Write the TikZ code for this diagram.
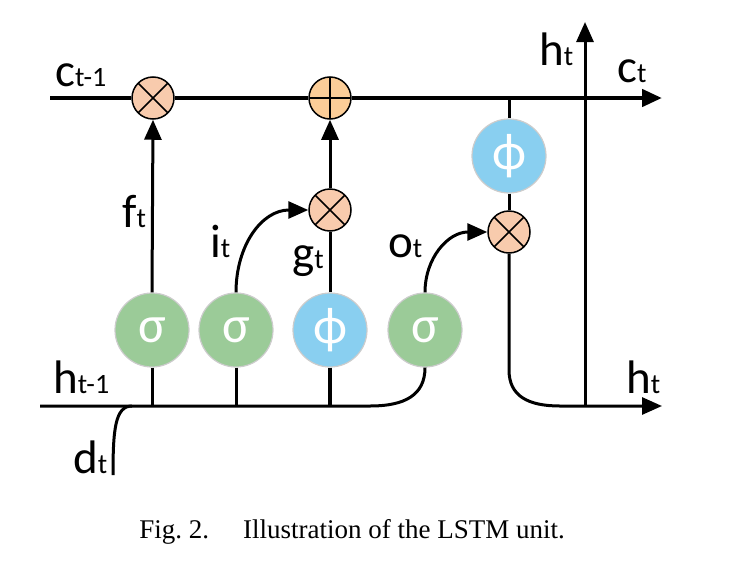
\documentclass[tikz,border=0pt]{standalone}
\usepackage{fontspec}
\setmainfont{Carlito}
\newfontfamily\capfont{Liberation Serif}
\usetikzlibrary{arrows.meta}
\definecolor{sigcol}{RGB}{155,203,152}
\definecolor{phicol}{RGB}{137,207,240}
\definecolor{mulcol}{RGB}{248,203,173}
\definecolor{addcol}{RGB}{251,205,152}
\newcommand{\lbl}[2]{{\fontsize{47}{47}\selectfont #1}{\fontsize{28}{28}\selectfont #2}}

\begin{document}
\begin{tikzpicture}[x=1pt,y=-1pt,>={Triangle[length=20pt,width=17pt]},
  gate/.style={circle, draw=gray!40, line width=1.2pt, minimum size=74pt, inner sep=0pt, text=white, font=\fontsize{52}{52}\selectfont},
  sig/.style={gate, fill=sigcol},
  phi/.style={gate, fill=phicol},
  op/.style={circle, draw, line width=1.5pt, minimum size=42pt, inner sep=0pt},
  mul/.style={op, fill=mulcol, path picture={\draw[line width=1.5pt] (path picture bounding box.north west) -- (path picture bounding box.south east) (path picture bounding box.south west) -- (path picture bounding box.north east);}},
  add/.style={op, fill=addcol, path picture={\draw[line width=1.5pt] (path picture bounding box.north) -- (path picture bounding box.south) (path picture bounding box.west) -- (path picture bounding box.east);}},
  wire/.style={line width=3pt},
  cell/.style={line width=4.5pt},
  lab/.style={inner sep=0pt, anchor=base west}]
  \useasboundingbox (0,0) rectangle (736,570);

  % gates
  \node[sig] (s1) at (152,330) {σ};
  \node[sig] (s2) at (236,330) {σ};
  \node[phi] (p1) at (330,330) {ϕ};
  \node[sig] (s3) at (425,330) {σ};
  \node[phi] (p2) at (509,156) {ϕ};

  % pointwise ops
  \node[mul] (m1) at (153,98) {};
  \node[add] (a1) at (330,98) {};
  \node[mul] (m2) at (330,210) {};
  \node[mul] (m3) at (509,232) {};

  \coordinate (cin) at (50,98);
  \coordinate (cout) at (662,98);
  \coordinate (cjoin) at (509,98);
  \coordinate (hin) at (40,406);
  \coordinate (hbend) at (370,406);
  \coordinate (hjoin) at (585,406);
  \coordinate (hup) at (585,22);
  \coordinate (hout) at (662,406);
  \coordinate (din) at (113,475);

  % cell state
  \draw[cell] (cin) -- (m1.west);
  \draw[cell] (m1.east) -- (a1.west);
  \draw[cell,->] (a1.east) -- (cout);

  % input bus
  \draw[wire] (hin) -- (hbend) .. controls (405,406) and (425,395) .. (s3.south);
  \draw[wire] (din) .. controls (113,430) and (115,406) .. (132,406);
  \draw[wire] (s1.south) -- (s1 |- hin);
  \draw[wire] (s2.south) -- (s2 |- hin);
  \draw[line width=4pt] (p1.south) -- (p1 |- hin);

  % gate outputs
  \draw[wire,->] (s1.north) -- (m1.south);
  \draw[wire,->] (s2.north) .. controls (236,245) and (262,210) .. (m2.west);
  \draw[wire] (p1.north) -- (m2.south);
  \draw[wire,->] (m2.north) -- (a1.south);
  \draw[wire,->] (s3.north) .. controls (425,258) and (448,232) .. (m3.west);

  % output
  \draw[wire] (cjoin) -- (p2.north);
  \draw[wire] (p2.south) -- (m3.north);
  \draw[wire,->] (m3.south) -- (509,370) .. controls (509,396) and (528,406) .. (560,406) -- (hout);
  \draw[wire,->] (hjoin) -- (hup);

  % labels
  \node[lab] (lc0) at (55,86) {\lbl{c}{t-1}};
  \node[lab] (lh0) at (53,393) {\lbl{h}{t-1}};
  \node[lab] (ld) at (73,473) {\lbl{d}{t}};
  \node[lab] (lf) at (122,227) {\lbl{f}{t}};
  \node[lab] (li) at (210,257) {\lbl{i}{t}};
  \node[lab] (lg) at (292,268) {\lbl{g}{t}};
  \node[lab] (lo) at (388,257) {\lbl{o}{t}};
  \node[lab] (lh1) at (539,65) {\lbl{h}{t}};
  \node[lab] (lc1) at (617,82) {\lbl{c}{t}};
  \node[lab] (lh2) at (626,393) {\lbl{h}{t}};

  \node (cap) at (352,532) {\capfont\fontsize{27}{27}\selectfont Fig.~2.\hspace{34pt}Illustration of the LSTM unit.};
\end{tikzpicture}
\end{document}
